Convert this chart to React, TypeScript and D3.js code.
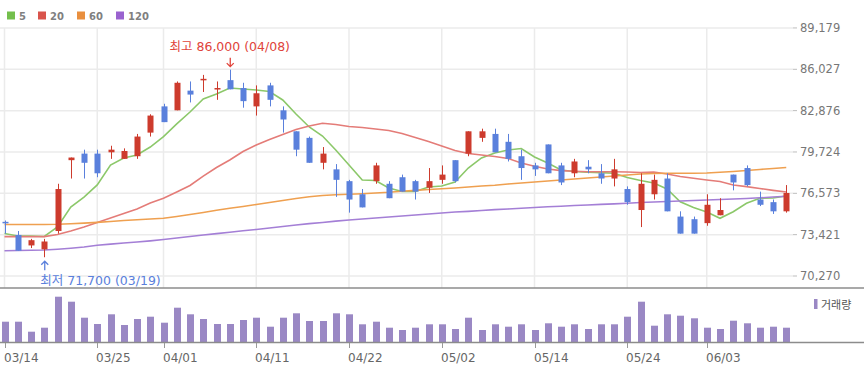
import React from "react";
import * as d3 from "d3";

const dates = ["03/14","03/15","03/18","03/19","03/20","03/21","03/22","03/25","03/26","03/27","03/28","03/29","04/01","04/02","04/03","04/04","04/05","04/08","04/09","04/11","04/12","04/15","04/16","04/17","04/18","04/19","04/22","04/23","04/24","04/25","04/26","04/29","04/30","05/02","05/03","05/07","05/08","05/09","05/10","05/13","05/14","05/16","05/17","05/20","05/21","05/22","05/23","05/24","05/27","05/28","05/29","05/30","05/31","06/03","06/04","06/05","06/07","06/10","06/11","06/12"];

const opens = [74400,73400,72600,72300,73700,79100,79600,79600,79700,79200,79400,81200,83200,82900,84400,85200,84500,85200,84600,83200,84800,82900,81300,80800,78900,78400,77500,76500,77500,77300,77800,77500,77000,77600,79100,79600,80800,81100,80500,79400,78700,80300,78700,78100,78600,78100,77700,76900,75300,76500,77700,74800,74600,74300,74900,78000,78500,76100,75900,75200];
const highs = [74500,73700,73100,73100,77300,79300,79900,79900,80200,80000,81100,82600,83400,85100,85100,85600,85100,86000,85000,84800,85000,83200,81300,80900,80100,78800,77600,76900,78900,77500,78000,77600,78500,78700,79100,81300,81500,81500,81100,79900,78900,80300,78900,79200,79100,78800,79200,77100,78100,78000,78100,75200,74800,76500,76200,78000,78700,76700,76100,77200];
const lows = [73500,72200,72400,71700,73500,77700,77700,77800,79200,79200,79200,80900,82000,82900,83500,84300,83700,84500,83100,82500,83200,81200,79400,78900,78400,76300,75100,75500,77300,76200,76700,76100,76600,77300,77400,79400,80500,79700,79000,77600,77900,78100,77200,77800,78100,77300,77100,75700,74000,76100,75200,73500,73500,74100,74900,76800,77100,75600,75000,75100];
const closes = [74300,72200,73000,72900,76900,79300,78900,78100,79900,79800,80900,82500,82000,85000,84100,85300,84600,84500,83600,84200,83700,82200,79900,78900,79600,77600,76100,75500,78700,76200,76700,76700,77500,78000,77500,81300,81300,79700,79200,78500,78400,78100,77400,79000,78400,77700,78400,75900,77300,77600,75200,73500,73500,75700,75300,77400,77200,75700,75200,76600];
const volumes = [20.3,20.3,10.3,14.3,45.3,40.3,24.3,18,27.7,17,23,25.3,19.3,34.3,27.7,23,18,18,22,24.3,15.3,24.3,28.7,21,21,28.7,27.7,17.7,20.3,14.3,12,14.3,17.7,17.7,13,24.3,12,17.7,15.3,17.7,12,18.7,15.3,17.7,13,17.7,17.7,25.3,40.3,16.3,27.7,26.3,23.7,14.3,13,21.3,18.7,14.3,15.3,14.3];

const ma5 = [73510,73320,73320,73280,74010,75530,76290,77210,78730,79270,79490,80100,80900,81860,82770,83760,84140,84600,84530,84450,84330,83690,82620,81630,80940,79880,78730,77590,77550,76980,76710,76710,77060,77130,77440,78500,79270,79650,79880,79990,79340,78890,78350,78240,78180,78150,78100,77780,77550,77360,76900,75930,75490,75150,74670,75170,75810,76190,76220,76370];
const ma20 = [73270,73270,73270,73270,73430,73700,74010,74350,74690,75040,75380,75840,76190,76670,77170,77890,78540,79110,79760,80260,80680,81060,81440,81700,81910,81820,81670,81590,81480,81360,81130,80830,80520,80180,79840,79610,79490,79380,79230,78890,78630,78430,78300,78250,78220,78220,78220,78200,78160,78200,78050,77860,77720,77590,77470,77210,77080,76940,76800,76670];
const ma60 = [74200,74200,74200,74200,74210,74250,74300,74360,74430,74500,74560,74620,74670,74810,74960,75110,75280,75430,75570,75720,75870,76030,76180,76310,76410,76460,76500,76540,76600,76650,76730,76800,76860,76920,76980,77060,77130,77190,77280,77360,77440,77510,77590,77670,77740,77820,77890,77970,78050,78080,78100,78100,78100,78120,78180,78240,78310,78390,78470,78540];
const ma120 = [72200,72210,72230,72250,72310,72390,72480,72610,72700,72790,72860,72950,73050,73170,73280,73400,73500,73610,73720,73820,73930,74040,74160,74260,74350,74450,74540,74620,74690,74770,74840,74920,75000,75070,75150,75200,75260,75330,75380,75440,75490,75550,75590,75650,75680,75730,75770,75820,75870,75910,75950,75990,76030,76060,76100,76140,76180,76230,76290,76350];

const priceTicks = [89179, 86027, 82876, 79724, 76573, 73421, 70270];
const dateTicks = ["03/14","03/25","04/01","04/11","04/22","05/02","05/14","05/24","06/03"];
const maLabels = ["5", "20", "60", "120"];
const maColors = ["#8cc86a", "#e47c78", "#efa050", "#a47fd6"];
const legendColors = ["#74bf4c", "#d9544c", "#e98f3e", "#9a62cf"];

const UP = "#cd3b2d";
const DOWN = "#5a80dc";
const FONT = "'DejaVu Sans', 'Noto Sans CJK KR', sans-serif";

export default function App() {
  const W = 864, H = 372;
  const x = d3.scalePoint<string>().domain(dates).range([4.5, 786.25]);
  const y = d3.scaleLinear().domain([70270, 89179]).range([276, 27.95]);
  const yv = d3.scaleLinear().domain([0, 53]).range([342, 289]);
  const fmt = d3.format(",");

  const line = d3.line<number>().x((_, i) => x(dates[i]) as number).y((d) => y(d));
  const maSeries = [ma5, ma20, ma60, ma120];

  const iMax = d3.maxIndex(highs);
  const iMin = d3.minIndex(lows);
  const xMax = x(dates[iMax]) as number;
  const xMin = x(dates[iMin]) as number;
  const yHi = y(highs[iMax]);
  const yLo = y(lows[iMin]);

  const gridRight = 793;

  return (
    <svg width={W} height={H} style={{ position: "absolute", left: 0, top: 0, background: "#fff" }} fontFamily={FONT}>
      {/* legend */}
      {maLabels.map((l, k) => {
        const lx = [7, 38, 77, 116][k];
        return (
          <g key={l}>
            <rect x={lx} y={11.5} width={8} height={8} fill={legendColors[k]} />
            <text x={lx + 12} y={19.5} fontSize={10} fontWeight="bold" fill="#808080">{l}</text>
          </g>
        );
      })}

      {/* horizontal grid */}
      {priceTicks.map((t) => (
        <g key={t}>
          <line x1={0} x2={gridRight} y1={y(t)} y2={y(t)} stroke="#ebebeb" strokeWidth={1.5} />
          <line x1={gridRight} x2={gridRight + 4} y1={y(t)} y2={y(t)} stroke="#bdbdbd" strokeWidth={1} />
          <text x={800} y={y(t)} dy="0.35em" fontSize={11.5} fill="#777">{fmt(t)}</text>
        </g>
      ))}
      {/* vertical grid */}
      {dateTicks.map((d) => (
        <line key={d} x1={x(d)} x2={x(d)} y1={y(89179)} y2={288} stroke="#ebebeb" strokeWidth={1.5} />
      ))}

      {/* moving averages */}
      {maSeries.map((s, k) => (
        <path key={k} d={line(s) as string} fill="none" stroke={maColors[k]} strokeWidth={1.6} />
      ))}

      {/* candles */}
      {dates.map((d, i) => {
        const cx = Math.round(x(d) as number);
        const up = closes[i] >= opens[i];
        const c = up ? UP : DOWN;
        const top = y(Math.max(opens[i], closes[i]));
        const bot = y(Math.min(opens[i], closes[i]));
        const h = Math.max(bot - top, 1.5);
        return (
          <g key={d}>
            <line x1={cx + 0.5} x2={cx + 0.5} y1={y(highs[i])} y2={y(lows[i])} stroke={c} strokeWidth={1} />
            <rect x={cx - 2.5} y={top} width={6} height={h} fill={c} />
          </g>
        );
      })}

      {/* high / low annotations */}
      <text x={xMax} y={51} textAnchor="middle" fontSize={12.5} fill="#e0433a">
        {`최고 ${fmt(highs[iMax])} (${dates[iMax]})`}
      </text>
      <path d={`M${xMax + 0.5},${yHi - 12} L${xMax + 0.5},${yHi - 3} M${xMax - 3},${yHi - 6.5} L${xMax + 0.5},${yHi - 3} L${xMax + 4},${yHi - 6.5}`} fill="none" stroke="#e0433a" strokeWidth={1.3} />
      <path d={`M${xMin + 0.5},${yLo + 13} L${xMin + 0.5},${yLo + 4} M${xMin - 3},${yLo + 7.5} L${xMin + 0.5},${yLo + 4} L${xMin + 4},${yLo + 7.5}`} fill="none" stroke="#5a80dc" strokeWidth={1.3} />
      <text x={xMin - 4} y={284.5} textAnchor="start" fontSize={12.5} fill="#5a80dc">
        {`최저 ${fmt(lows[iMin])} (${dates[iMin]})`}
      </text>

      {/* panel borders */}
      <line x1={0} x2={W} y1={288} y2={288} stroke="#8c8c8c" strokeWidth={1.5} />

      {/* volume */}
      {dates.map((d, i) => {
        const cx = Math.round(x(d) as number);
        return <rect key={d} x={cx - 3} y={yv(volumes[i])} width={7} height={342 - yv(volumes[i])} fill="#9a88c4" />;
      })}
      <line x1={0} x2={W} y1={342.5} y2={342.5} stroke="#8c8c8c" strokeWidth={1.3} />
      <rect x={814} y={299} width={3.5} height={10} fill="#9a88c4" />
      <text x={821} y={308.5} fontSize={11} fill="#555">거래량</text>

      {/* x axis */}
      {dateTicks.map((d) => {
        const tx = Math.round(x(d) as number) + 0.5;
        return (
          <g key={d}>
            <line x1={tx} x2={tx} y1={343} y2={348} stroke="#999" strokeWidth={1} />
            <text x={tx - 1.5} y={361.5} fontSize={12} fill="#666">{d}</text>
          </g>
        );
      })}
    </svg>
  );
}
